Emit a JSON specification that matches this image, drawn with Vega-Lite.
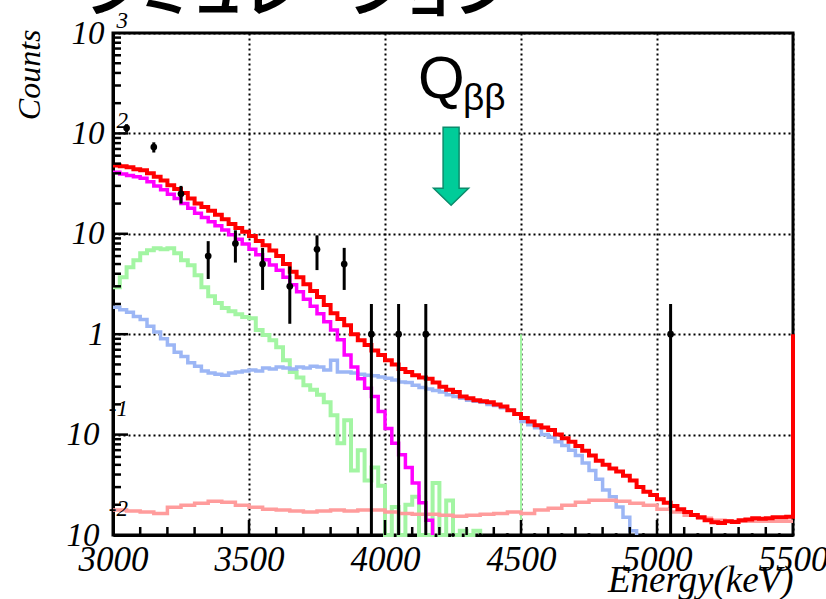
{
  "$schema": "https://vega.github.io/schema/vega-lite/v6.json",
  "width": 680,
  "height": 502,
  "autosize": "none",
  "padding": {"left": 113, "top": 33, "right": 33, "bottom": 64},
  "background": "white",
  "view": {"stroke": "black", "strokeWidth": 3},
  "datasets": {
    "sum": [
      {"E":3000,"n":48},{"E":3025,"n":47},{"E":3050,"n":46},{"E":3075,"n":44},{"E":3100,"n":43},{"E":3125,"n":40},{"E":3150,"n":37},{"E":3175,"n":34},
      {"E":3200,"n":30.5},{"E":3225,"n":28},{"E":3250,"n":25.5},{"E":3275,"n":22.5},{"E":3300,"n":20},{"E":3325,"n":18.5},{"E":3350,"n":17},{"E":3375,"n":15.5},
      {"E":3400,"n":14},{"E":3425,"n":12.5},{"E":3450,"n":11.4},{"E":3475,"n":10.5},{"E":3500,"n":9.5},{"E":3525,"n":8.5},{"E":3550,"n":7.7},{"E":3575,"n":6.8},
      {"E":3600,"n":6.0},{"E":3625,"n":5.0},{"E":3650,"n":4.2},{"E":3675,"n":3.7},{"E":3700,"n":3.15},{"E":3725,"n":2.7},{"E":3750,"n":2.35},{"E":3775,"n":1.95},
      {"E":3800,"n":1.62},{"E":3825,"n":1.42},{"E":3850,"n":1.23},{"E":3875,"n":1.0},{"E":3900,"n":0.87},{"E":3925,"n":0.78},{"E":3950,"n":0.69},{"E":3975,"n":0.62},
      {"E":4000,"n":0.55},{"E":4025,"n":0.5},{"E":4050,"n":0.45},{"E":4075,"n":0.42},{"E":4100,"n":0.39},{"E":4125,"n":0.37},{"E":4150,"n":0.36},{"E":4175,"n":0.33},
      {"E":4200,"n":0.3},{"E":4225,"n":0.28},{"E":4250,"n":0.265},{"E":4275,"n":0.24},{"E":4300,"n":0.23},{"E":4325,"n":0.22},{"E":4350,"n":0.215},{"E":4375,"n":0.21},
      {"E":4400,"n":0.2},{"E":4425,"n":0.19},{"E":4450,"n":0.175},{"E":4475,"n":0.16},{"E":4500,"n":0.146},{"E":4525,"n":0.135},{"E":4550,"n":0.124},{"E":4575,"n":0.118},
      {"E":4600,"n":0.111},{"E":4625,"n":0.1},{"E":4650,"n":0.092},{"E":4675,"n":0.085},{"E":4700,"n":0.077},{"E":4725,"n":0.069},{"E":4750,"n":0.062},{"E":4775,"n":0.055},
      {"E":4800,"n":0.05},{"E":4825,"n":0.046},{"E":4850,"n":0.043},{"E":4875,"n":0.039},{"E":4900,"n":0.035},{"E":4925,"n":0.03},{"E":4950,"n":0.027},{"E":4975,"n":0.025},
      {"E":5000,"n":0.0227},{"E":5025,"n":0.021},{"E":5050,"n":0.0194},{"E":5075,"n":0.018},{"E":5100,"n":0.0169},{"E":5125,"n":0.0158},{"E":5150,"n":0.015},{"E":5175,"n":0.014},
      {"E":5200,"n":0.0134},{"E":5225,"n":0.0132},{"E":5250,"n":0.0137},{"E":5275,"n":0.0135},{"E":5300,"n":0.014},{"E":5325,"n":0.0143},{"E":5350,"n":0.0147},{"E":5375,"n":0.0145},
      {"E":5400,"n":0.0147},{"E":5425,"n":0.015},{"E":5450,"n":0.015},{"E":5475,"n":0.0152},{"E":5500,"n":1}
    ],
    "bgA": [
      {"E":3000,"n":41},{"E":3025,"n":39.5},{"E":3050,"n":38},{"E":3075,"n":37},{"E":3100,"n":35.8},{"E":3125,"n":33},{"E":3150,"n":30},{"E":3175,"n":27.5},
      {"E":3200,"n":24.8},{"E":3225,"n":22.5},{"E":3250,"n":20},{"E":3275,"n":18},{"E":3300,"n":16},{"E":3325,"n":14.5},{"E":3350,"n":13.2},{"E":3375,"n":12},
      {"E":3400,"n":10.9},{"E":3425,"n":9.8},{"E":3450,"n":8.8},{"E":3475,"n":7.9},{"E":3500,"n":7.0},{"E":3525,"n":6.2},{"E":3550,"n":5.5},{"E":3575,"n":4.9},
      {"E":3600,"n":4.34},{"E":3625,"n":3.7},{"E":3650,"n":3.1},{"E":3675,"n":2.65},{"E":3700,"n":2.23},{"E":3725,"n":1.9},{"E":3750,"n":1.6},{"E":3775,"n":1.33},
      {"E":3800,"n":1.1},{"E":3825,"n":0.88},{"E":3850,"n":0.62},{"E":3875,"n":0.47},{"E":3900,"n":0.36},{"E":3925,"n":0.29},{"E":3950,"n":0.24},{"E":3975,"n":0.17},
      {"E":4000,"n":0.115},{"E":4025,"n":0.082},{"E":4050,"n":0.063},{"E":4075,"n":0.047},{"E":4100,"n":0.033},{"E":4125,"n":0.021},{"E":4150,"n":0.014},{"E":4175,"n":0}
    ],
    "bgB": [
      {"E":3000,"n":2.94},{"E":3025,"n":3.7},{"E":3050,"n":4.65},{"E":3075,"n":5.46},{"E":3100,"n":6.41},{"E":3125,"n":6.87},{"E":3150,"n":7.19},{"E":3175,"n":7.03},
      {"E":3200,"n":7.19},{"E":3225,"n":6.41},{"E":3250,"n":5.46},{"E":3275,"n":4.87},{"E":3300,"n":3.87},{"E":3325,"n":2.94},{"E":3350,"n":2.39},{"E":3375,"n":2.04},
      {"E":3400,"n":1.82},{"E":3425,"n":1.69},{"E":3450,"n":1.58},{"E":3475,"n":1.48},{"E":3500,"n":1.44},{"E":3525,"n":1.1},{"E":3550,"n":0.98},{"E":3575,"n":0.87},
      {"E":3600,"n":0.74},{"E":3625,"n":0.55},{"E":3650,"n":0.42},{"E":3675,"n":0.37},{"E":3700,"n":0.31},{"E":3725,"n":0.28},{"E":3750,"n":0.25},{"E":3775,"n":0.21},
      {"E":3800,"n":0.156},{"E":3825,"n":0.082},{"E":3850,"n":0.139},{"E":3875,"n":0.044},{"E":3900,"n":0.07},{"E":3925,"n":0.035},{"E":3950,"n":0.047},{"E":3975,"n":0.031},
      {"E":4000,"n":0},{"E":4025,"n":0.019},{"E":4050,"n":0},{"E":4075,"n":0.02},{"E":4100,"n":0.024},{"E":4125,"n":0},{"E":4150,"n":0},{"E":4175,"n":0.033},
      {"E":4200,"n":0},{"E":4225,"n":0.022},{"E":4250,"n":0},{"E":4275,"n":0.011},{"E":4300,"n":0},{"E":4325,"n":0.011},{"E":4350,"n":0}
    ],
    "bgBspike": [{"E":4500,"n":1}],
    "bgC": [
      {"E":3000,"n":1.86},{"E":3025,"n":1.75},{"E":3050,"n":1.65},{"E":3075,"n":1.5},{"E":3100,"n":1.4},{"E":3125,"n":1.2},{"E":3150,"n":1.05},{"E":3175,"n":0.9},
      {"E":3200,"n":0.78},{"E":3225,"n":0.66},{"E":3250,"n":0.6},{"E":3275,"n":0.52},{"E":3300,"n":0.48},{"E":3325,"n":0.43},{"E":3350,"n":0.41},{"E":3375,"n":0.4},
      {"E":3400,"n":0.39},{"E":3425,"n":0.41},{"E":3450,"n":0.42},{"E":3475,"n":0.43},{"E":3500,"n":0.44},{"E":3525,"n":0.43},{"E":3550,"n":0.46},{"E":3575,"n":0.45},
      {"E":3600,"n":0.47},{"E":3625,"n":0.46},{"E":3650,"n":0.45},{"E":3675,"n":0.47},{"E":3700,"n":0.46},{"E":3725,"n":0.48},{"E":3750,"n":0.47},{"E":3775,"n":0.44},
      {"E":3800,"n":0.55},{"E":3825,"n":0.42},{"E":3850,"n":0.42},{"E":3875,"n":0.41},{"E":3900,"n":0.4},{"E":3925,"n":0.39},{"E":3950,"n":0.385},{"E":3975,"n":0.375},
      {"E":4000,"n":0.365},{"E":4025,"n":0.35},{"E":4050,"n":0.335},{"E":4075,"n":0.33},{"E":4100,"n":0.31},{"E":4125,"n":0.295},{"E":4150,"n":0.285},{"E":4175,"n":0.275},
      {"E":4200,"n":0.265},{"E":4225,"n":0.25},{"E":4250,"n":0.24},{"E":4275,"n":0.23},{"E":4300,"n":0.22},{"E":4325,"n":0.215},{"E":4350,"n":0.21},{"E":4375,"n":0.2},
      {"E":4400,"n":0.195},{"E":4425,"n":0.185},{"E":4450,"n":0.175},{"E":4475,"n":0.16},{"E":4500,"n":0.135},{"E":4525,"n":0.125},{"E":4550,"n":0.117},{"E":4575,"n":0.1},
      {"E":4600,"n":0.094},{"E":4625,"n":0.085},{"E":4650,"n":0.078},{"E":4675,"n":0.07},{"E":4700,"n":0.062},{"E":4725,"n":0.052},{"E":4750,"n":0.044},{"E":4775,"n":0.036},
      {"E":4800,"n":0.028},{"E":4825,"n":0.024},{"E":4850,"n":0.019},{"E":4875,"n":0.015},{"E":4900,"n":0.011},{"E":4925,"n":0}
    ],
    "bgD": [
      {"E":3000,"n":0.0177},{"E":3050,"n":0.0173},{"E":3100,"n":0.0169},{"E":3150,"n":0.0164},{"E":3200,"n":0.0189},{"E":3250,"n":0.0198},{"E":3300,"n":0.0207},{"E":3350,"n":0.0217},
      {"E":3400,"n":0.0212},{"E":3450,"n":0.0198},{"E":3500,"n":0.0189},{"E":3550,"n":0.0181},{"E":3600,"n":0.0177},{"E":3650,"n":0.0173},{"E":3700,"n":0.0169},{"E":3750,"n":0.0173},
      {"E":3800,"n":0.0177},{"E":3850,"n":0.0173},{"E":3900,"n":0.0177},{"E":3950,"n":0.0177},{"E":4000,"n":0.0169},{"E":4050,"n":0.0164},{"E":4100,"n":0.0161},{"E":4150,"n":0.0161},
      {"E":4200,"n":0.0157},{"E":4250,"n":0.0154},{"E":4300,"n":0.0157},{"E":4350,"n":0.0161},{"E":4400,"n":0.0164},{"E":4450,"n":0.0169},{"E":4500,"n":0.0164},{"E":4550,"n":0.0177},
      {"E":4600,"n":0.0185},{"E":4650,"n":0.0198},{"E":4700,"n":0.0212},{"E":4750,"n":0.0222},{"E":4800,"n":0.0222},{"E":4850,"n":0.0217},{"E":4900,"n":0.0207},{"E":4950,"n":0.0198},
      {"E":5000,"n":0.0181},{"E":5050,"n":0.0169},{"E":5100,"n":0.0157},{"E":5150,"n":0.0147},{"E":5200,"n":0.014},{"E":5250,"n":0.0137},{"E":5300,"n":0.0137},{"E":5350,"n":0.0137},
      {"E":5400,"n":0.0137},{"E":5450,"n":0.0137},{"E":5500,"n":0.0137}
    ],
    "obs": [
      {"E":3050,"n":113,"lo":102.4,"hi":123.6},
      {"E":3150,"n":73,"lo":64.5,"hi":81.5},
      {"E":3250,"n":25,"lo":20,"hi":30},
      {"E":3350,"n":6,"lo":3.55,"hi":8.45},
      {"E":3450,"n":8,"lo":5.17,"hi":10.83},
      {"E":3550,"n":5,"lo":2.76,"hi":7.24},
      {"E":3650,"n":3,"lo":1.27,"hi":4.73},
      {"E":3750,"n":7,"lo":4.35,"hi":9.65},
      {"E":3850,"n":5,"lo":2.76,"hi":7.24},
      {"E":3950,"n":1,"lo":0,"hi":2},
      {"E":4050,"n":1,"lo":0,"hi":2},
      {"E":4150,"n":1,"lo":0,"hi":2},
      {"E":5050,"n":1,"lo":0,"hi":2}
    ],
    "zeroBins": [
      {"E":4250,"n":0},{"E":4350,"n":0},{"E":4450,"n":0},{"E":4550,"n":0},{"E":4650,"n":0},{"E":4750,"n":0},
      {"E":4850,"n":0},{"E":4950,"n":0},{"E":5150,"n":0},{"E":5250,"n":0},{"E":5350,"n":0},{"E":5450,"n":0}
    ],
    "majorE": [{"E":3500},{"E":4000},{"E":4500},{"E":5000}],
    "minorE": [
      {"E":3100},{"E":3200},{"E":3300},{"E":3400},{"E":3600},{"E":3700},{"E":3800},{"E":3900},
      {"E":4100},{"E":4200},{"E":4300},{"E":4400},{"E":4600},{"E":4700},{"E":4800},{"E":4900},
      {"E":5100},{"E":5200},{"E":5300},{"E":5400}
    ],
    "majorN": [{"n":0.1},{"n":1},{"n":10},{"n":100}],
    "minorN": [
      {"n":0.02},{"n":0.03},{"n":0.04},{"n":0.05},{"n":0.06},{"n":0.07},{"n":0.08},{"n":0.09},
      {"n":0.2},{"n":0.3},{"n":0.4},{"n":0.5},{"n":0.6},{"n":0.7},{"n":0.8},{"n":0.9},
      {"n":2},{"n":3},{"n":4},{"n":5},{"n":6},{"n":7},{"n":8},{"n":9},
      {"n":20},{"n":30},{"n":40},{"n":50},{"n":60},{"n":70},{"n":80},{"n":90},
      {"n":200},{"n":300},{"n":400},{"n":500},{"n":600},{"n":700},{"n":800},{"n":900}
    ],
    "exponents": [
      {"n":1000,"t":"3"},{"n":100,"t":"2"},{"n":0.1,"t":"-1"},{"n":0.01,"t":"-2"}
    ],
    "qlabel": [{"q": "Q", "sub": "ββ"}],
    "heading": [{"t": "シミュレーション"}]
  },
  "resolve": {"scale": {"y": "independent"}},
  "layer": [
    {
      "layer": [
        {
          "data": {"name": "bgB"},
          "mark": {"type": "line", "interpolate": "step-after", "color": "#a3f5a3", "strokeWidth": 4, "strokeJoin": "miter", "strokeCap": "butt"},
          "encoding": {
            "x": {
              "field": "E",
              "type": "quantitative",
              "scale": {"domain": [3000, 5500], "nice": false, "zero": false},
              "axis": {
                "values": [3000, 3500, 4000, 4500, 5000, 5500],
                "format": "d",
                "labelFont": "Liberation Serif",
                "labelFontStyle": "italic",
                "labelFontSize": 35,
                "labelColor": "black",
                "labelPadding": 7,
                "labelFlush": false,
                "labelOverlap": false,
                "labelBound": false,
                "ticks": false,
                "grid": true,
                "gridColor": "black",
                "gridWidth": 2,
                "gridDash": [2, 3],
                "domainColor": "black",
                "domainWidth": 3,
                "title": "Energy(keV)",
                "titleFont": "Liberation Serif",
                "titleFontStyle": "italic",
                "titleFontWeight": "normal",
                "titleFontSize": 37,
                "titleColor": "black",
                "titleAnchor": "end",
                "titlePadding": -15
              }
            },
            "y": {
              "field": "n",
              "type": "quantitative",
              "scale": {"type": "log", "domain": [0.01, 1000], "clamp": true, "nice": false},
              "axis": {
                "values": [0.01, 0.1, 1, 10, 100, 1000],
                "labelExpr": "datum.value === 1 ? '1' : '10'",
                "labelFont": "Liberation Serif",
                "labelFontStyle": "italic",
                "labelFontSize": 33,
                "labelColor": "black",
                "labelPadding": {"condition": {"test": "datum.value < 0.5", "value": 14}, "value": 9},
                "labelFlush": false,
                "labelOverlap": false,
                "labelBound": false,
                "ticks": false,
                "grid": true,
                "gridColor": "black",
                "gridWidth": 2,
                "gridDash": [2, 3],
                "domainColor": "black",
                "domainWidth": 3,
                "title": "Counts",
                "titleFont": "Liberation Serif",
                "titleFontStyle": "italic",
                "titleFontWeight": "normal",
                "titleFontSize": 32,
                "titleColor": "black",
                "titleAnchor": "end",
                "titleY": -4,
                "titlePadding": 20
              }
            }
          }
        },
        {
          "data": {"name": "bgBspike"},
          "mark": {"type": "rule", "color": "#a3f5a3", "strokeWidth": 2},
          "encoding": {
            "x": {"field": "E", "type": "quantitative", "scale": {"domain": [3000, 5500], "nice": false, "zero": false}},
            "y": {"field": "n", "type": "quantitative", "scale": {"type": "log", "domain": [0.01, 1000], "clamp": true, "nice": false}},
            "y2": {"datum": 0}
          }
        },
        {
          "data": {"name": "bgC"},
          "mark": {"type": "line", "interpolate": "step-after", "color": "#9cb6f5", "strokeWidth": 3.5, "strokeJoin": "miter", "strokeCap": "butt"},
          "encoding": {
            "x": {"field": "E", "type": "quantitative", "scale": {"domain": [3000, 5500], "nice": false, "zero": false}},
            "y": {"field": "n", "type": "quantitative", "scale": {"type": "log", "domain": [0.01, 1000], "clamp": true, "nice": false}}
          }
        },
        {
          "data": {"name": "bgD"},
          "mark": {"type": "line", "interpolate": "step-after", "color": "#ff9c9c", "strokeWidth": 3.5, "strokeJoin": "miter", "strokeCap": "butt"},
          "encoding": {
            "x": {"field": "E", "type": "quantitative", "scale": {"domain": [3000, 5500], "nice": false, "zero": false}},
            "y": {"field": "n", "type": "quantitative", "scale": {"type": "log", "domain": [0.01, 1000], "clamp": true, "nice": false}}
          }
        },
        {
          "data": {"name": "bgA"},
          "mark": {"type": "line", "interpolate": "step-after", "color": "#ff00ff", "strokeWidth": 3.5, "strokeJoin": "miter", "strokeCap": "butt"},
          "encoding": {
            "x": {"field": "E", "type": "quantitative", "scale": {"domain": [3000, 5500], "nice": false, "zero": false}},
            "y": {"field": "n", "type": "quantitative", "scale": {"type": "log", "domain": [0.01, 1000], "clamp": true, "nice": false}}
          }
        },
        {
          "data": {"name": "sum"},
          "mark": {"type": "line", "interpolate": "step-after", "color": "#ff0000", "strokeWidth": 4, "strokeJoin": "miter", "strokeCap": "butt"},
          "encoding": {
            "x": {"field": "E", "type": "quantitative", "scale": {"domain": [3000, 5500], "nice": false, "zero": false}},
            "y": {"field": "n", "type": "quantitative", "scale": {"type": "log", "domain": [0.01, 1000], "clamp": true, "nice": false}}
          }
        },
        {
          "data": {"name": "obs"},
          "mark": {"type": "rule", "color": "black", "strokeWidth": 3},
          "encoding": {
            "x": {"field": "E", "type": "quantitative", "scale": {"domain": [3000, 5500], "nice": false, "zero": false}},
            "y": {"field": "lo", "type": "quantitative", "scale": {"type": "log", "domain": [0.01, 1000], "clamp": true, "nice": false}},
            "y2": {"field": "hi"}
          }
        },
        {
          "data": {"name": "obs"},
          "mark": {"type": "point", "shape": "circle", "filled": true, "color": "black", "opacity": 1, "size": 45},
          "encoding": {
            "x": {"field": "E", "type": "quantitative", "scale": {"domain": [3000, 5500], "nice": false, "zero": false}},
            "y": {"field": "n", "type": "quantitative", "scale": {"type": "log", "domain": [0.01, 1000], "clamp": true, "nice": false}}
          }
        },
        {
          "data": {"name": "zeroBins"},
          "mark": {"type": "point", "shape": "circle", "filled": true, "color": "black", "opacity": 1, "size": 16},
          "encoding": {
            "x": {"field": "E", "type": "quantitative", "scale": {"domain": [3000, 5500], "nice": false, "zero": false}},
            "y": {"field": "n", "type": "quantitative", "scale": {"type": "log", "domain": [0.01, 1000], "clamp": true, "nice": false}}
          }
        },
        {
          "data": {"name": "majorE"},
          "mark": {"type": "tick", "orient": "vertical", "color": "black", "opacity": 1, "size": 15, "thickness": 2.5, "yOffset": -7.5},
          "encoding": {
            "x": {"field": "E", "type": "quantitative", "scale": {"domain": [3000, 5500], "nice": false, "zero": false}},
            "y": {"datum": 0.01, "scale": {"type": "log", "domain": [0.01, 1000], "clamp": true, "nice": false}}
          }
        },
        {
          "data": {"name": "minorE"},
          "mark": {"type": "tick", "orient": "vertical", "color": "black", "opacity": 1, "size": 8, "thickness": 2.5, "yOffset": -4},
          "encoding": {
            "x": {"field": "E", "type": "quantitative", "scale": {"domain": [3000, 5500], "nice": false, "zero": false}},
            "y": {"datum": 0.01, "scale": {"type": "log", "domain": [0.01, 1000], "clamp": true, "nice": false}}
          }
        },
        {
          "data": {"name": "majorN"},
          "mark": {"type": "tick", "orient": "horizontal", "color": "black", "opacity": 1, "size": 15, "thickness": 2.5, "xOffset": 7.5},
          "encoding": {
            "x": {"datum": 3000, "scale": {"domain": [3000, 5500], "nice": false, "zero": false}},
            "y": {"field": "n", "type": "quantitative", "scale": {"type": "log", "domain": [0.01, 1000], "clamp": true, "nice": false}}
          }
        },
        {
          "data": {"name": "minorN"},
          "mark": {"type": "tick", "orient": "horizontal", "color": "black", "opacity": 1, "size": 8, "thickness": 2.5, "xOffset": 4},
          "encoding": {
            "x": {"datum": 3000, "scale": {"domain": [3000, 5500], "nice": false, "zero": false}},
            "y": {"field": "n", "type": "quantitative", "scale": {"type": "log", "domain": [0.01, 1000], "clamp": true, "nice": false}}
          }
        },
        {
          "data": {"name": "qlabel"},
          "mark": {
            "type": "point",
            "shape": "M-0.205,-1L0.205,-1L0.205,0.564L0.449,0.564L0,1L-0.449,0.564L-0.205,0.564Z",
            "size": 6084,
            "filled": true,
            "fill": "#00cc99",
            "stroke": "#0b8c6c",
            "strokeWidth": 1.5,
            "opacity": 1
          },
          "encoding": {
            "x": {"datum": 4243, "scale": {"domain": [3000, 5500], "nice": false, "zero": false}},
            "y": {"datum": 47, "scale": {"type": "log", "domain": [0.01, 1000], "clamp": true, "nice": false}}
          }
        },
        {
          "data": {"name": "qlabel"},
          "mark": {"type": "text", "font": "Liberation Sans", "fontSize": 60, "align": "left", "baseline": "alphabetic", "color": "black"},
          "encoding": {
            "x": {"datum": 4121, "scale": {"domain": [3000, 5500], "nice": false, "zero": false}},
            "y": {"datum": 224, "scale": {"type": "log", "domain": [0.01, 1000], "clamp": true, "nice": false}},
            "text": {"field": "q", "type": "nominal"}
          }
        },
        {
          "data": {"name": "qlabel"},
          "mark": {"type": "text", "font": "Liberation Sans", "fontSize": 37, "align": "left", "baseline": "alphabetic", "color": "black"},
          "encoding": {
            "x": {"datum": 4287, "scale": {"domain": [3000, 5500], "nice": false, "zero": false}},
            "y": {"datum": 170, "scale": {"type": "log", "domain": [0.01, 1000], "clamp": true, "nice": false}},
            "text": {"field": "sub", "type": "nominal"}
          }
        },
        {
          "data": {"name": "exponents"},
          "transform": [{"filter": "datum.n > 1"}],
          "mark": {"type": "text", "font": "Liberation Serif", "fontStyle": "italic", "fontSize": 23, "align": "right", "baseline": "middle", "dx": 15, "dy": -12, "color": "black"},
          "encoding": {
            "x": {"datum": 3000, "scale": {"domain": [3000, 5500], "nice": false, "zero": false}},
            "y": {"field": "n", "type": "quantitative", "scale": {"type": "log", "domain": [0.01, 1000], "clamp": true, "nice": false}},
            "text": {"field": "t", "type": "nominal"}
          }
        },
        {
          "data": {"name": "exponents"},
          "transform": [{"filter": "datum.n < 1"}],
          "mark": {"type": "text", "font": "Liberation Serif", "fontStyle": "italic", "fontSize": 23, "align": "right", "baseline": "middle", "dx": 15, "dy": -26, "color": "black"},
          "encoding": {
            "x": {"datum": 3000, "scale": {"domain": [3000, 5500], "nice": false, "zero": false}},
            "y": {"field": "n", "type": "quantitative", "scale": {"type": "log", "domain": [0.01, 1000], "clamp": true, "nice": false}},
            "text": {"field": "t", "type": "nominal"}
          }
        }
      ]
    },
    {
      "data": {"name": "heading"},
      "mark": {"type": "text", "font": "Noto Sans CJK JP", "fontSize": 53, "fontWeight": "bold", "align": "left", "baseline": "alphabetic", "color": "black"},
      "encoding": {
        "x": {"datum": 2900, "scale": {"domain": [3000, 5500], "nice": false, "zero": false}},
        "y": {"datum": 1610, "scale": {"type": "log", "domain": [0.01, 1000], "nice": false}, "axis": null},
        "text": {"field": "t", "type": "nominal"}
      }
    }
  ]
}
